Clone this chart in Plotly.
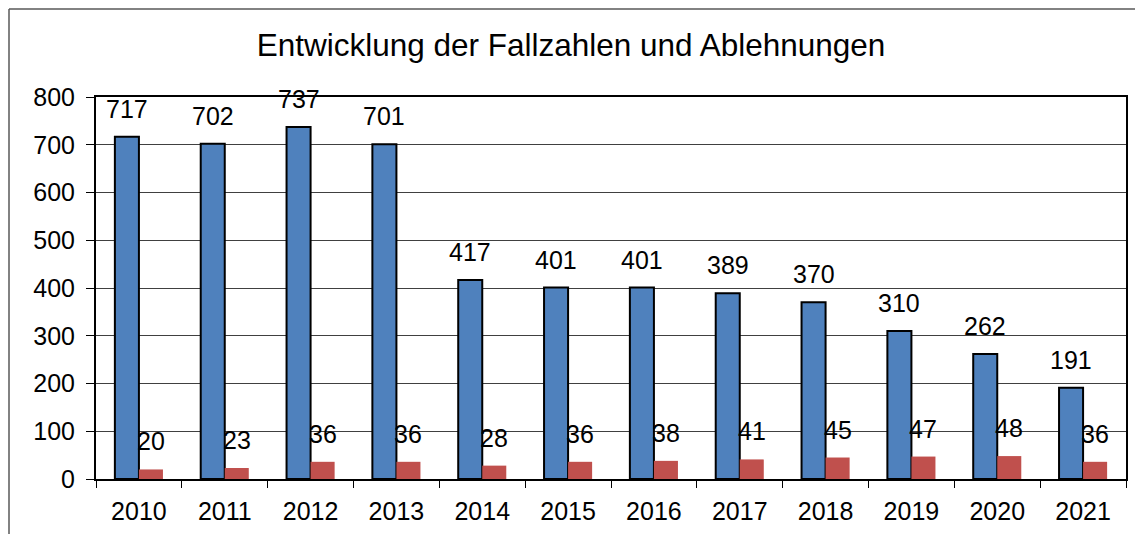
import plotly.graph_objects as go

years = ["2010", "2011", "2012", "2013", "2014", "2015", "2016", "2017", "2018", "2019", "2020", "2021"]
fallzahlen = [717, 702, 737, 701, 417, 401, 401, 389, 370, 310, 262, 191]
ablehnungen = [20, 23, 36, 36, 28, 36, 38, 41, 45, 47, 48, 36]
y_ticks = [0, 100, 200, 300, 400, 500, 600, 700, 800]
title_text = "Entwicklung der Fallzahlen und Ablehnungen"

FONT = "Arial, Liberation Sans, sans-serif"
LBL = 25

W, H = 1143, 534
ML, MR, MT, MB = 88, 25, 89, 63
PW, PH = W - ML - MR, H - MT - MB

fig = go.Figure()
fig.add_trace(go.Bar(x=years, y=fallzahlen, name="Fallzahlen",
                     marker=dict(color="#4F81BD", line=dict(color="black", width=2))))
fig.add_trace(go.Bar(x=years, y=ablehnungen, name="Ablehnungen",
                     marker=dict(color="#C0504D", line=dict(width=0))))

annotations = []
for i, v in enumerate(fallzahlen):
    annotations.append(dict(x=i, y=v, xref="x", yref="y", text=str(v), showarrow=False,
                            xshift=-12, yshift=12, yanchor="bottom",
                            font=dict(family=FONT, size=LBL, color="black")))
for i, v in enumerate(ablehnungen):
    annotations.append(dict(x=i, y=v, xref="x", yref="y", text=str(v), showarrow=False,
                            xshift=12, yshift=12, yanchor="bottom",
                            font=dict(family=FONT, size=LBL, color="black")))

bx = (1 - ML) / PW
by = 1 + (MT - 1) / PH
shapes = [
    dict(type="line", xref="paper", yref="paper", x0=bx, x1=bx, y0=-0.3, y1=by,
         line=dict(color="#595959", width=1.5)),
    dict(type="line", xref="paper", yref="paper", x0=bx, x1=1.2, y0=by, y1=by,
         line=dict(color="#595959", width=1.5)),
]

fig.update_layout(
    width=W, height=H,
    margin=dict(l=ML, r=MR, t=MT, b=MB, autoexpand=False),
    paper_bgcolor="white", plot_bgcolor="white",
    barmode="group", bargap=0.44, bargroupgap=0,
    showlegend=False,
    title=dict(text=title_text, x=563 / W, xref="container", xanchor="center",
               y=1 - 37 / H, yref="container", yanchor="middle",
               font=dict(family=FONT, size=31.5, color="black")),
    font=dict(family=FONT, size=LBL, color="black"),
    annotations=annotations,
    shapes=shapes,
)
fig.update_xaxes(type="category", range=[-0.5, len(years) - 0.5], automargin=False,
                 showline=True, mirror=True, linecolor="black", linewidth=2,
                 ticks="outside", tickson="boundaries", ticklen=7, tickcolor="black", tickwidth=1,
                 ticklabelstandoff=9,
                 tickangle=0, showgrid=False, tickfont=dict(family=FONT, size=LBL, color="black"))
fig.update_yaxes(range=[0, 800], tickvals=y_ticks, automargin=False, showline=True, mirror=True,
                 linecolor="black", linewidth=2, ticks="outside", ticklen=8, tickcolor="black",
                 tickwidth=1, ticklabelstandoff=6,
                 showgrid=True, gridcolor="#404040", gridwidth=1, zeroline=False,
                 tickfont=dict(family=FONT, size=LBL, color="black"))

fig.write_html("out.html")
